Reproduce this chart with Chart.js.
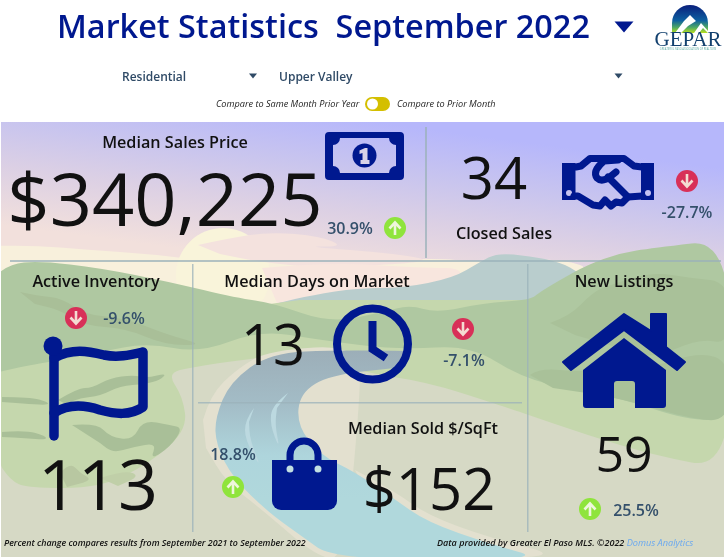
<!DOCTYPE html>
<html>
<head>
<meta charset="utf-8">
<title>Market Statistics</title>
<script src="https://cdn.jsdelivr.net/npm/chart.js@4"></script>
<style>
  html, body { margin: 0; padding: 0; background: #fff; }
  canvas { display: block; }
</style>
</head>
<body>
<canvas id="myChart" width="725" height="560"></canvas>
<script>
// data
const metricNames = ['Median Sales Price', 'Closed Sales', 'Active Inventory', 'Median Days on Market', 'Median Sold $/SqFt', 'New Listings'];
const metricValues = [340225, 34, 113, 13, 152, 59];
const metricChanges = [30.9, -27.7, -9.6, -7.1, 18.8, 25.5];
const metricPrefix = ['$', '', '', '', '$', ''];

const titleText = 'Market Statistics  September 2022';
const filterLabels = ['Residential', 'Upper Valley'];
const toggleLabels = ['Compare to Same Month Prior Year', 'Compare to Prior Month'];
const footerLeft = 'Percent change compares results from September 2021 to September 2022';
const footerRight = 'Data provided by Greater El Paso MLS. \u00A92022 ';
const footerLink = 'Domus Analytics';

const NAVY = '#00188f';
const FONT = '"Open Sans", sans-serif';

// where each card puts its pieces: name, value, change text, arrow
const cards = [
  { name: [175, 148], value: [165, 226], size: 74, change: [350, 234], arrow: [395, 228] },
  { name: [504, 239], value: [494, 199], size: 58, change: [687, 218], arrow: [687, 181] },
  { name: [96, 287],  value: [98, 510],  size: 70, change: [124, 324], arrow: [76, 318] },
  { name: [317, 287], value: [273, 365], size: 56, change: [464, 366], arrow: [463, 329] },
  { name: [423, 434], value: [429, 510], size: 58, change: [233, 460], arrow: [233, 487] },
  { name: [624, 287], value: [624, 472], size: 50, change: [636, 516], arrow: [590, 509] }
];

function smooth(ctx, pts, closed) {
  ctx.beginPath();
  ctx.moveTo(pts[0][0], pts[0][1]);
  for (let i = 1; i < pts.length - 1; i++) {
    const mx = (pts[i][0] + pts[i + 1][0]) / 2, my = (pts[i][1] + pts[i + 1][1]) / 2;
    ctx.quadraticCurveTo(pts[i][0], pts[i][1], mx, my);
  }
  ctx.lineTo(pts[pts.length - 1][0], pts[pts.length - 1][1]);
  if (closed !== false) ctx.closePath();
}

function blob(ctx, color, pts) {
  ctx.fillStyle = color;
  smooth(ctx, pts);
  ctx.fill();
}

function drawLandscape(ctx) {
  ctx.save();
  ctx.beginPath();
  ctx.rect(1, 122, 723, 435);
  ctx.clip();

  const sky = ctx.createLinearGradient(360, 120, 340, 270);
  sky.addColorStop(0, '#b6b7fb');
  sky.addColorStop(0.33, '#c9c5ee');
  sky.addColorStop(0.62, '#dcd0e4');
  sky.addColorStop(1, '#f2e0dc');
  ctx.fillStyle = sky;
  ctx.fillRect(0, 120, 725, 200);

  // clouds and sun
  blob(ctx, '#f8f0dc', [[-5, 246], [30, 245], [90, 250], [150, 254], [215, 262], [330, 262], [440, 258], [470, 262], [560, 258], [600, 272], [420, 300], [120, 310], [-5, 300]]);
  ctx.fillStyle = '#f9f4da';
  ctx.beginPath();
  ctx.arc(223, 275, 47, 0, Math.PI * 2);
  ctx.fill();
  blob(ctx, '#f4e2de', [[198, 245], [230, 238], [270, 232], [320, 236], [345, 247], [300, 246], [400, 254], [437, 262], [320, 268], [260, 262], [220, 254]]);
  blob(ctx, '#f8e6de', [[262, 268], [330, 262], [420, 268], [470, 268], [440, 300], [280, 310]]);

  // blue mountain
  blob(ctx, '#b9cdcd', [[262, 308], [277, 303], [313, 295], [357, 288], [403, 288], [453, 278], [480, 262], [497, 253], [530, 256], [560, 262], [580, 273], [600, 290], [630, 340], [300, 350]]);

  // ground
  ctx.fillStyle = '#d6d9c5';
  ctx.fillRect(0, 340, 725, 220);

  // light green slopes
  blob(ctx, '#c5d7ad', [[-5, 340], [-5, 457], [10, 480], [27, 488], [100, 488], [150, 463], [187, 430], [183, 397], [167, 373], [193, 367], [240, 360], [310, 352], [360, 372], [427, 382], [493, 403], [520, 412], [587, 435], [653, 455], [730, 470], [730, 300], [300, 300]]);

  // dark green hills
  blob(ctx, '#afc8a1', [[-5, 276], [8, 264], [40, 261], [100, 268], [170, 282], [237, 298], [273, 303], [330, 323], [383, 312], [410, 305], [437, 313], [483, 303], [530, 300], [540, 292], [560, 280], [587, 265], [620, 253], [653, 248], [730, 239], [730, 420], [687, 420], [620, 398], [580, 392], [520, 377], [470, 345], [400, 350], [320, 340], [260, 330], [200, 353], [147, 343], [100, 352], [43, 363], [20, 367], [-5, 373]]);
  blob(ctx, '#a9c199', [[550, 323], [570, 316], [593, 292], [610, 285], [653, 272], [690, 278], [730, 282], [730, 345], [700, 338], [650, 360], [610, 345], [575, 335]]);
  blob(ctx, '#a9c199', [[530, 375], [540, 368], [580, 372], [650, 368], [700, 352], [730, 362], [730, 422], [687, 418], [620, 398], [553, 388]]);

  // darker creases on the left hill
  const crease = '#a9bf98';
  blob(ctx, crease, [[20, 292], [38, 296], [62, 298], [85, 315], [125, 318], [168, 335], [205, 345], [165, 345], [125, 328], [85, 326], [60, 310], [35, 304]]);
  blob(ctx, crease, [[2, 397], [30, 397], [48, 402], [48, 405], [30, 404], [2, 402]]);
  blob(ctx, crease, [[58, 400], [78, 388], [92, 388], [110, 378], [133, 375], [147, 378], [167, 373], [160, 380], [145, 384], [120, 386], [100, 396], [80, 398], [66, 404]]);
  blob(ctx, crease, [[2, 432], [25, 430], [46, 436], [46, 440], [25, 438], [2, 437]]);
  blob(ctx, crease, [[72, 425], [97, 423], [110, 437], [133, 440], [143, 420], [170, 425], [183, 428], [170, 447], [150, 460], [157, 443], [133, 447], [113, 453], [100, 443]]);
  blob(ctx, '#b8c7a1', [[60, 473], [70, 462], [80, 473], [93, 480], [67, 487]]);
  blob(ctx, '#c0cfa8', [[100, 478], [125, 470], [140, 476], [118, 486]]);

  // shore and river
  blob(ctx, '#e3e0cf', [[203, 420], [210, 395], [238, 368], [270, 350], [360, 345], [360, 400], [345, 558], [318, 558], [260, 508], [226, 482], [206, 448]]);
  blob(ctx, '#e3e0cf', [[355, 470], [393, 490], [427, 515], [490, 538], [570, 558], [400, 558]]);
  const river = ctx.createLinearGradient(0, 350, 0, 500);
  river.addColorStop(0, '#9caeb8');
  river.addColorStop(0.35, '#a3bcc6');
  river.addColorStop(0.7, '#aed5dc');
  river.addColorStop(1, '#b0d8dc');
  ctx.fillStyle = river;
  smooth(ctx, [[405, 351], [340, 350], [270, 353], [230, 382], [215, 418], [216, 445], [233, 478], [268, 512], [300, 535], [335, 560], [548, 560], [490, 544], [427, 522], [393, 498], [355, 472], [320, 455], [297, 425], [300, 393], [330, 375], [395, 368]]);
  ctx.fill();
  blob(ctx, '#bcd9e0', [[288, 393], [272, 405], [270, 425], [280, 450], [275, 425], [277, 408]]);
  blob(ctx, '#bcd9e0', [[254, 408], [245, 420], [245, 440], [262, 470], [250, 440], [249, 422]]);

  // dividers
  ctx.fillStyle = 'rgba(155,178,185,0.75)';
  ctx.fillRect(10, 260, 711, 2);
  ctx.fillRect(425, 127, 2, 131);
  ctx.fillRect(192, 264, 1.5, 268);
  ctx.fillRect(527, 264, 1.5, 268);
  ctx.fillRect(198, 402, 324, 1.5);
  ctx.restore();
}

function drawMoney(ctx) {
  const p = new Path2D();
  p.roundRect(325, 132, 79, 48, 4);
  // note face with scooped corners
  p.moveTo(340, 138);
  p.lineTo(389, 138);
  p.arc(396, 138, 7, Math.PI, Math.PI / 2, true);
  p.lineTo(396, 166);
  p.arc(396, 173, 7, -Math.PI / 2, Math.PI, true);
  p.lineTo(340, 173);
  p.arc(333, 173, 7, 0, -Math.PI / 2, true);
  p.lineTo(333, 145);
  p.arc(333, 138, 7, Math.PI / 2, 0, true);
  p.closePath();
  ctx.fillStyle = NAVY;
  ctx.fill(p, 'evenodd');
  ctx.beginPath();
  ctx.arc(364.5, 155.5, 12, 0, Math.PI * 2);
  ctx.fill();
  ctx.fillStyle = '#d8d2e8';
  ctx.beginPath();
  ctx.moveTo(359.5, 150.5); ctx.lineTo(365, 148); ctx.lineTo(367.5, 148); ctx.lineTo(367.5, 160);
  ctx.lineTo(369.5, 160); ctx.lineTo(369.5, 164); ctx.lineTo(360.5, 164); ctx.lineTo(360.5, 160);
  ctx.lineTo(362.5, 160); ctx.lineTo(362.5, 153); ctx.lineTo(359.5, 154);
  ctx.closePath();
  ctx.fill();
}

function drawHandshake(ctx) {
  ctx.fillStyle = NAVY;
  ctx.strokeStyle = NAVY;
  ctx.lineJoin = 'round';
  ctx.lineCap = 'round';
  ctx.lineWidth = 7;
  ctx.beginPath();
  ctx.moveTo(576, 167); ctx.lineTo(581, 166); ctx.lineTo(590, 158.5); ctx.lineTo(624, 158.5); ctx.lineTo(634, 166); ctx.lineTo(642, 167);
  ctx.stroke();
  const cuffs = new Path2D();
  cuffs.rect(562, 163, 13.5, 37);
  cuffs.rect(641, 163, 13, 37);
  cuffs.moveTo(572, 193); cuffs.arc(569, 193, 3, 0, Math.PI * 2);
  cuffs.moveTo(651, 193); cuffs.arc(648, 193, 3, 0, Math.PI * 2);
  ctx.fill(cuffs, 'evenodd');
  ctx.beginPath();
  ctx.moveTo(574, 196); ctx.lineTo(578, 196); ctx.lineTo(593, 205);
  ctx.lineTo(600, 206); ctx.lineTo(605, 200); ctx.lineTo(611, 206); ctx.lineTo(616, 202);
  ctx.lineTo(622, 203); ctx.lineTo(628, 197); ctx.lineTo(642, 196);
  ctx.stroke();
  ctx.beginPath();
  ctx.moveTo(618, 160); ctx.lineTo(604, 161);
  ctx.quadraticCurveTo(592, 171, 597, 178);
  ctx.quadraticCurveTo(602, 183, 611, 176);
  ctx.lineTo(616, 172);
  ctx.moveTo(608, 177); ctx.lineTo(628, 197);
  ctx.stroke();
}

function drawFlag(ctx) {
  ctx.strokeStyle = NAVY;
  ctx.fillStyle = NAVY;
  ctx.lineWidth = 9.5;
  ctx.lineJoin = 'round';
  ctx.lineCap = 'round';
  ctx.beginPath();
  ctx.moveTo(54, 345); ctx.lineTo(54, 436);
  ctx.stroke();
  ctx.beginPath();
  ctx.moveTo(54, 358);
  ctx.bezierCurveTo(72, 348, 88, 351, 104, 355);
  ctx.bezierCurveTo(118, 358, 130, 355, 143, 352);
  ctx.lineTo(143, 407);
  ctx.bezierCurveTo(130, 416, 115, 414, 100, 410);
  ctx.bezierCurveTo(85, 405, 68, 404, 54, 413);
  ctx.stroke();
  ctx.beginPath();
  ctx.arc(53, 346, 9.5, 0, Math.PI * 2);
  ctx.fill();
}

function drawClock(ctx) {
  ctx.strokeStyle = NAVY;
  ctx.lineWidth = 8;
  ctx.lineCap = 'round';
  ctx.lineJoin = 'miter';
  ctx.beginPath();
  ctx.arc(372.5, 344, 35.5, 0, Math.PI * 2);
  ctx.stroke();
  ctx.lineCap = 'butt';
  ctx.beginPath();
  ctx.moveTo(372.5, 321); ctx.lineTo(372.5, 349); ctx.lineTo(386, 358);
  ctx.stroke();
}

function drawBag(ctx) {
  ctx.fillStyle = NAVY;
  ctx.strokeStyle = NAVY;
  ctx.lineWidth = 7;
  ctx.lineCap = 'butt';
  ctx.beginPath();
  ctx.moveTo(290, 466);
  ctx.lineTo(290, 455);
  ctx.arc(304, 455, 14, Math.PI, 0);
  ctx.lineTo(318, 466);
  ctx.stroke();
  const body = new Path2D();
  body.roundRect(272, 460, 65, 50, [0, 0, 9, 9]);
  ctx.fill(body);
  ctx.fillStyle = '#c2dfe2';
  ctx.beginPath();
  ctx.arc(290, 469, 3.5, 0, Math.PI * 2);
  ctx.arc(318, 469, 3.5, 0, Math.PI * 2);
  ctx.fill();
}

function drawHouse(ctx) {
  ctx.fillStyle = NAVY;
  ctx.strokeStyle = NAVY;
  ctx.lineWidth = 2;
  ctx.lineJoin = 'round';
  // roof with chimney
  ctx.beginPath();
  ctx.moveTo(624, 314); ctx.lineTo(651, 331); ctx.lineTo(651, 314); ctx.lineTo(666, 314);
  ctx.lineTo(666, 347); ctx.lineTo(685, 362); ctx.lineTo(677, 370); ctx.lineTo(624, 330);
  ctx.lineTo(571, 370); ctx.lineTo(563, 362);
  ctx.closePath();
  ctx.fill();
  ctx.stroke();
  const body = new Path2D();
  body.moveTo(624, 338);
  body.lineTo(666, 370);
  body.lineTo(666, 405);
  body.quadraticCurveTo(666, 408, 663, 408);
  body.lineTo(635, 408);
  body.lineTo(635, 384);
  body.quadraticCurveTo(635, 381, 632, 381);
  body.lineTo(617, 381);
  body.quadraticCurveTo(614, 381, 614, 384);
  body.lineTo(614, 408);
  body.lineTo(586, 408);
  body.quadraticCurveTo(583, 408, 583, 405);
  body.lineTo(583, 370);
  body.closePath();
  ctx.fill(body);
}

function drawArrow(ctx, x, y, up) {
  ctx.fillStyle = up ? '#8fe43c' : '#d83058';
  ctx.beginPath();
  ctx.arc(x, y, 11, 0, Math.PI * 2);
  ctx.fill();
  const d = up ? 1 : -1;
  ctx.strokeStyle = up ? '#eef6dc' : '#f4dcd2';
  ctx.lineWidth = 2.6;
  ctx.lineCap = 'butt';
  ctx.lineJoin = 'miter';
  ctx.beginPath();
  ctx.moveTo(x, y + 7 * d);
  ctx.lineTo(x, y - 5 * d);
  ctx.moveTo(x - 5.5, y + 0.5 * d);
  ctx.lineTo(x, y - 5.5 * d);
  ctx.lineTo(x + 5.5, y + 0.5 * d);
  ctx.stroke();
}

function drawLogo(ctx) {
  const dome = ctx.createLinearGradient(0, 5, 0, 33);
  dome.addColorStop(0, '#0a1f7c');
  dome.addColorStop(0.55, '#0d5fa0');
  dome.addColorStop(0.8, '#4ea864');
  dome.addColorStop(1, '#b8e020');
  ctx.fillStyle = dome;
  ctx.beginPath();
  ctx.moveTo(672, 33);
  ctx.lineTo(672, 23);
  ctx.arc(690, 23, 18, Math.PI, 0);
  ctx.lineTo(708, 33);
  ctx.closePath();
  ctx.fill();
  ctx.fillStyle = '#fff';
  ctx.beginPath();
  ctx.moveTo(675, 33); ctx.lineTo(684, 21); ctx.lineTo(690, 15); ctx.lineTo(696, 21); ctx.lineTo(688, 26); ctx.lineTo(681, 33);
  ctx.closePath();
  ctx.fill();
  ctx.beginPath();
  ctx.moveTo(694, 33); ctx.lineTo(701, 23); ctx.lineTo(708, 31); ctx.lineTo(708, 33);
  ctx.lineTo(703, 28); ctx.lineTo(699, 33);
  ctx.closePath();
  ctx.fill();
  text(ctx, 'GEPAR', 688, 46, '21px "Liberation Serif", serif', '#12406e', 'center');
  text(ctx, 'GREATER EL PASO ASSOCIATION OF REALTORS', 688, 50, '2.6px "Open Sans", sans-serif', '#5aa8a0', 'center');
}

function text(ctx, str, x, y, font, color, align) {
  ctx.font = font;
  ctx.fillStyle = color;
  ctx.textAlign = align || 'left';
  ctx.textBaseline = 'alphabetic';
  ctx.fillText(str, x, y);
}

function triangle(ctx, x, y, w, h, color) {
  ctx.fillStyle = color;
  ctx.beginPath();
  ctx.moveTo(x - w / 2, y - h / 2);
  ctx.lineTo(x + w / 2, y - h / 2);
  ctx.lineTo(x, y + h / 2);
  ctx.closePath();
  ctx.fill();
}

function drawHeader(ctx) {
  text(ctx, titleText, 57, 38, '600 32.4px ' + FONT, NAVY);
  triangle(ctx, 624, 27, 19, 11, NAVY);
  drawLogo(ctx);
  text(ctx, filterLabels[0], 122, 81, '600 12px ' + FONT, '#2f4a66');
  text(ctx, filterLabels[1], 279, 81, '600 12px ' + FONT, '#2f4a66');
  triangle(ctx, 253, 76, 8, 5, '#2f4a66');
  triangle(ctx, 618.5, 76, 8, 5, '#2f4a66');
  text(ctx, toggleLabels[0], 216, 107, 'italic 500 9.15px ' + FONT, '#222');
  text(ctx, toggleLabels[1], 397, 107, 'italic 500 9.15px ' + FONT, '#222');
  ctx.fillStyle = '#d4bf00';
  ctx.beginPath();
  ctx.roundRect(365, 97, 25, 14, 7);
  ctx.fill();
  ctx.fillStyle = '#fff';
  ctx.beginPath();
  ctx.arc(372.5, 104, 5.5, 0, Math.PI * 2);
  ctx.fill();
}

function drawFooter(ctx) {
  text(ctx, footerLeft, 4, 546, 'italic 600 8.85px ' + FONT, '#111');
  text(ctx, footerRight, 437, 546, 'italic 600 9px ' + FONT, '#111');
  const w = ctx.measureText(footerRight).width;
  text(ctx, footerLink, 437 + w, 546, 'italic 400 9.2px ' + FONT, '#6aa8f0');
}

function fmtChange(v) {
  return v.toFixed(1) + '%';
}

const dashboardPlugin = {
  id: 'dashboard',
  beforeDraw(chart) {
    const ctx = chart.ctx;
    ctx.save();
    ctx.fillStyle = '#fff';
    ctx.fillRect(0, 0, chart.width, chart.height);
    drawLandscape(ctx);
    ctx.restore();
  },
  afterDraw(chart) {
    const ctx = chart.ctx;
    ctx.save();
    drawHeader(ctx);
    drawMoney(ctx);
    drawHandshake(ctx);
    drawFlag(ctx);
    drawClock(ctx);
    drawBag(ctx);
    drawHouse(ctx);
    const values = chart.data.datasets[0].data;
    chart.data.labels.forEach((name, i) => {
      const c = cards[i];
      text(ctx, name, c.name[0], c.name[1], '600 16.2px ' + FONT, '#111', 'center');
      const shown = metricPrefix[i] + values[i].toLocaleString('en-US');
      text(ctx, shown, c.value[0], c.value[1], '400 ' + c.size + 'px ' + FONT, '#111', 'center');
      text(ctx, fmtChange(metricChanges[i]), c.change[0], c.change[1], '600 16px ' + FONT, '#34506b', 'center');
      drawArrow(ctx, c.arrow[0], c.arrow[1], metricChanges[i] > 0);
    });
    drawFooter(ctx);
    ctx.restore();
  }
};

new Chart(document.getElementById('myChart').getContext('2d'), {
  type: 'bar',
  data: {
    labels: metricNames,
    datasets: [{ label: 'Market statistics', data: metricValues, backgroundColor: 'transparent', borderWidth: 0 }]
  },
  options: {
    responsive: false,
    animation: false,
    layout: { padding: 0 },
    plugins: { legend: { display: false }, tooltip: { enabled: false }, title: { display: false } },
    scales: { x: { display: false }, y: { display: false } }
  },
  plugins: [dashboardPlugin]
});
</script>
</body>
</html>
